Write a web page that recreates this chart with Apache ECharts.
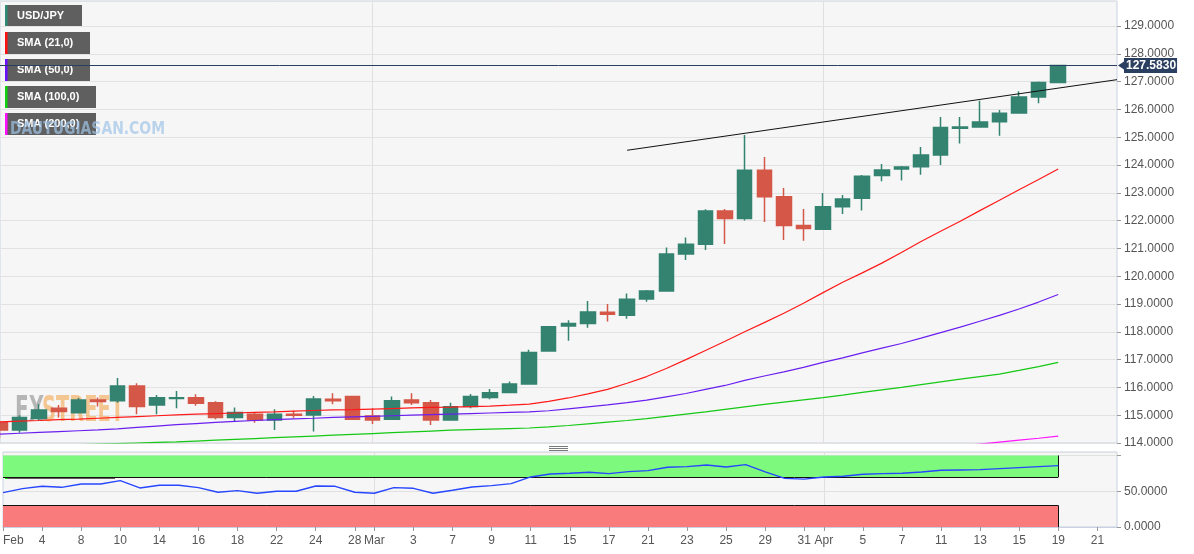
<!DOCTYPE html>
<html><head><meta charset="utf-8">
<script src="https://cdn.jsdelivr.net/npm/echarts@6/dist/echarts.min.js"></script>
<style>html,body{margin:0;padding:0;background:#fff;}#c{width:1194px;height:554px;}</style>
</head><body><div id="c"></div>
<script>
// ---- DATA ----
const dates = [
 '2022-02-02','2022-02-03','2022-02-04','2022-02-07','2022-02-08','2022-02-09','2022-02-10','2022-02-11',
 '2022-02-14','2022-02-15','2022-02-16','2022-02-17','2022-02-18','2022-02-21','2022-02-22','2022-02-23',
 '2022-02-24','2022-02-25','2022-02-28',
 '2022-03-01','2022-03-02','2022-03-03','2022-03-04','2022-03-07','2022-03-08','2022-03-09','2022-03-10',
 '2022-03-11','2022-03-14','2022-03-15','2022-03-16','2022-03-17','2022-03-18','2022-03-21','2022-03-22',
 '2022-03-23','2022-03-24','2022-03-25','2022-03-28','2022-03-29','2022-03-30','2022-03-31',
 '2022-04-01','2022-04-04','2022-04-05','2022-04-06','2022-04-07','2022-04-08','2022-04-11','2022-04-12',
 '2022-04-13','2022-04-14','2022-04-15','2022-04-18','2022-04-19','2022-04-20','2022-04-21','2022-04-22'
];
const tickLabels = [
 'Feb','','4','','8','','10','','14','','16','','18','','22','','24','','28',
 'Mar','','3','','7','','9','','11','','15','','17','','21','','23','','25','','29','','31',
 'Apr','','5','','7','','11','','13','','15','','19','','21',''
];
const opens  = [114.73,114.47,114.88,115.25,115.09,115.55,115.52,116.05,115.37,115.60,115.63,115.45,114.92,115.03,114.83,115.03,115.01,115.57,115.67,114.97,114.85,115.55,115.45,114.83,115.31,115.64,115.82,116.12,117.31,118.21,118.30,118.70,118.60,119.18,119.47,120.80,121.15,122.35,122.08,123.81,122.86,121.82,121.69,122.50,122.80,123.62,123.86,123.94,124.36,125.32,125.37,125.56,125.87,126.45,126.97];
const closes = [114.47,114.92,115.19,115.13,115.55,115.49,116.05,115.31,115.63,115.63,115.43,114.92,115.10,114.83,115.03,115.00,115.58,115.52,114.85,114.83,115.52,115.45,114.83,115.30,115.67,115.81,116.12,117.26,118.18,118.30,118.71,118.63,119.17,119.47,120.80,121.15,122.35,122.08,123.81,122.86,121.82,121.72,122.50,122.78,123.60,123.82,123.93,124.36,125.35,125.37,125.55,125.86,126.45,126.97,127.583];
const lows   = [114.18,114.37,114.80,114.92,115.06,115.31,115.45,115.03,115.03,115.25,115.34,114.85,114.77,114.73,114.47,114.91,114.41,115.39,114.83,114.68,114.85,115.37,114.65,114.83,115.25,115.57,115.80,116.10,117.29,117.68,118.15,118.37,118.47,119.08,119.45,120.58,120.94,121.16,122.00,121.95,121.30,121.28,121.69,122.24,122.36,123.42,123.44,123.65,124.00,124.77,125.35,125.05,125.87,126.22,126.97];
const highs  = [114.80,115.00,115.39,115.37,115.63,115.64,116.34,116.15,115.73,115.87,115.75,115.50,115.28,115.10,115.21,115.16,115.69,115.79,115.70,115.25,115.67,115.79,115.55,115.45,115.76,115.94,116.21,117.35,118.21,118.42,119.11,119.00,119.38,119.50,121.03,121.39,122.41,122.42,125.08,124.29,123.17,122.42,122.99,122.92,123.64,124.04,123.96,124.65,125.73,125.73,126.31,125.98,126.65,127.00,127.60];
const sma21  = [114.76,114.79,114.81,114.84,114.86,114.89,114.92,114.95,114.98,115.01,115.04,115.06,115.08,115.10,115.12,115.15,115.17,115.19,115.20,115.22,115.24,115.26,115.28,115.29,115.31,115.33,115.36,115.40,115.50,115.62,115.77,115.93,116.15,116.39,116.68,117.00,117.33,117.66,118.00,118.33,118.67,119.03,119.41,119.78,120.12,120.47,120.85,121.25,121.62,121.98,122.36,122.73,123.11,123.48,123.86];
const sma50  = [114.32,114.35,114.38,114.41,114.44,114.47,114.51,114.56,114.61,114.66,114.70,114.74,114.78,114.81,114.84,114.87,114.89,114.92,114.94,114.96,114.98,115.00,115.02,115.04,115.06,115.08,115.10,115.12,115.16,115.23,115.30,115.37,115.45,115.54,115.66,115.78,115.93,116.07,116.25,116.41,116.56,116.72,116.90,117.06,117.24,117.41,117.58,117.77,117.97,118.17,118.38,118.59,118.82,119.07,119.34];
const sma100 = [113.88,113.90,113.91,113.93,113.94,113.96,113.98,114.00,114.02,114.04,114.07,114.10,114.13,114.16,114.19,114.22,114.25,114.28,114.31,114.34,114.37,114.40,114.43,114.46,114.48,114.50,114.52,114.54,114.58,114.63,114.69,114.75,114.81,114.88,114.96,115.04,115.12,115.21,115.30,115.39,115.47,115.55,115.63,115.72,115.82,115.91,116.00,116.10,116.20,116.30,116.39,116.48,116.61,116.75,116.90];
const sma200 = [null,null,null,null,null,null,null,null,null,null,null,null,null,null,null,null,null,null,null,null,null,null,null,null,null,null,null,null,null,null,null,null,null,null,null,null,null,null,null,null,null,null,null,null,null,null,null,null,113.82,113.89,113.96,114.03,114.10,114.17,114.25];
const rsi    = [48.1,53.7,56.9,55.5,60.2,60.2,64.9,54.6,58.3,58.3,55.1,48.6,50.9,47.2,50.0,50.0,57.4,56.9,48.6,47.2,55.1,54.1,47.2,51.4,56.0,57.9,60.7,70.0,74.2,75.1,76.5,74.7,77.5,78.9,83.5,84.5,86.8,84.0,87.2,77.0,68.0,67.0,70.0,70.9,73.7,74.7,75.1,77.0,79.3,79.8,80.3,81.7,83.1,84.5,85.9];
const trendDates  = ['2022-03-18','2022-04-22'];
const trendValues = [124.53,127.07];
const rsiLevels = {overbought:70, oversold:30, top:100, bottom:0};

// ---- BUILD ----
const FONT = '"Liberation Sans", Arial, sans-serif';
const candles = opens.map((o,i)=>[o, closes[i], lows[i], highs[i]]);
const lastPrice = closes[closes.length-1];
const lastDataDate = dates[rsi.length-1];
const isMonthStart = (i)=> i>0 && dates[i].slice(5,7)!==dates[i-1].slice(5,7);
const NAVY = '#2b3f60';

const chart = echarts.init(document.getElementById('c'), null, {renderer:'canvas'});

const legendItems = [
  {t:'USD/JPY', c:'#2e8b74', w:77},
  {t:'SMA (21,0)', c:'#ff1010', w:85},
  {t:'SMA (50,0)', c:'#6a10ff', w:85},
  {t:'SMA (100,0)', c:'#10d010', w:91},
  {t:'SMA (200,0)', c:'#ff10ff', w:91}
];
const graphics = [];
// watermarks
graphics.push({type:'text', x:10, y:120, z:1, scaleX:0.86, silent:true,
  style:{text:'DAUTUGIASAN.COM', fill:'#9fc4e8', opacity:0.7, font:'bold 18px "DejaVu Sans Condensed", sans-serif'}});
graphics.push({type:'text', x:15, y:394, z:1, scaleX:0.62, silent:true,
  style:{text:'FX', fill:'#8c8c8c', opacity:0.6, font:'bold 36px "DejaVu Sans Condensed", sans-serif'}});
graphics.push({type:'text', x:42, y:394, z:1, scaleX:0.6, silent:true,
  style:{text:'STREET', fill:'#f4a750', opacity:0.6, font:'bold 36px "DejaVu Sans Condensed", sans-serif'}});
legendItems.forEach((it,i)=>{
  graphics.push({type:'group', x:5, y:5+i*27, z:100, silent:true, children:[
    {type:'rect', shape:{x:0,y:0,width:it.w,height:22}, style:{fill:'rgba(17,17,17,0.66)'}},
    {type:'rect', shape:{x:0,y:0,width:2.5,height:22}, style:{fill:it.c}},
    {type:'text', x:12, y:11, style:{text:it.t, fill:'#fff', font:'bold 11px '+FONT, verticalAlign:'middle'}}
  ]});
});
graphics.push({type:'group', x:5, y:458, z:100, silent:true, children:[
  {type:'rect', shape:{x:0,y:0,width:110,height:21}, style:{fill:'rgba(17,17,17,0.66)'}},
  {type:'rect', shape:{x:0,y:0,width:2.5,height:21}, style:{fill:'#00e000'}},
  {type:'text', x:12, y:10.5, style:{text:'RSI (14,70,30,1)', fill:'#fff', font:'bold 11px '+FONT, verticalAlign:'middle'}}
]});
// panel splitter handle
[446.5,448.5,450.5].forEach(y=>graphics.push({type:'line', silent:true, z:100,
  shape:{x1:549,y1:y,x2:568,y2:y}, style:{stroke:'#7a7a7a', lineWidth:1}}));

const option = {
  animation:false,
  backgroundColor:'#ffffff',
  textStyle:{fontFamily:FONT},
  grid:[
    {left:0, top:1, width:1117, height:442, show:true, backgroundColor:'#f6f6f6', borderColor:'#c9d1e3', borderWidth:1},
    {left:0, top:452, width:1117, height:75, show:true, backgroundColor:'#f6f6f6', borderColor:'#c9d1e3', borderWidth:1}
  ],
  xAxis:[
    {type:'category', gridIndex:0, data:dates, boundaryGap:false,
     axisLine:{show:false}, axisTick:{show:false}, axisLabel:{show:false},
     splitLine:{show:true, interval:(i)=>isMonthStart(i), lineStyle:{color:'#e0e0e0'}}},
    {type:'category', gridIndex:1, data:dates, boundaryGap:false,
     axisLine:{show:true, lineStyle:{color:'#c9d1e3'}},
     axisTick:{show:true, interval:(i)=>tickLabels[i]!=='', length:4, lineStyle:{color:'#999'}},
     axisLabel:{show:true, interval:(i)=>tickLabels[i]!=='', formatter:(v,i)=>tickLabels[i],
       color:'#555', fontSize:12, fontFamily:FONT, margin:8, alignMinLabel:'left'},
     splitLine:{show:true, interval:(i)=>isMonthStart(i), lineStyle:{color:'#e0e0e0'}}}
  ],
  yAxis:[
    {type:'value', gridIndex:0, position:'right', min:114, max:129.9, interval:1, scale:true,
     axisLine:{show:false}, axisTick:{show:true, length:4, lineStyle:{color:'#999'}},
     axisLabel:{color:'#555', fontSize:12, fontFamily:FONT, margin:7, showMaxLabel:false,
       formatter:(v)=>v.toFixed(4)},
     splitLine:{show:true, lineStyle:{color:'#e2e2e2'}}},
    {type:'value', gridIndex:1, position:'right', min:0, max:104.9, interval:50,
     axisLine:{show:false}, axisTick:{show:true, length:4, lineStyle:{color:'#999'}},
     axisLabel:{color:'#555', fontSize:12, fontFamily:FONT, margin:7, showMaxLabel:false,
       formatter:(v)=> v===100 ? '' : v.toFixed(4)},
     splitLine:{show:true, lineStyle:{color:'#e0e0e0'}}}
  ],
  series:[
    {type:'candlestick', xAxisIndex:0, yAxisIndex:0, data:candles, barWidth:15, z:3,
     itemStyle:{color:'#338370', color0:'#d45748', borderColor:'#338370', borderColor0:'#d45748', borderWidth:1.5},
     markLine:{silent:true, symbol:'none', animation:false,
       lineStyle:{color:NAVY, width:1, type:'solid'},
       label:{show:true, position:'end', formatter:lastPrice.toFixed(4), color:'#fff', fontWeight:'bold',
         fontSize:12, fontFamily:FONT, backgroundColor:NAVY, padding:[2,1,1,2], distance:7},
       data:[{yAxis:lastPrice}]},
     markPoint:{silent:true, animation:false, symbol:'triangle', symbolSize:[8,6], symbolRotate:90,
       itemStyle:{color:NAVY}, label:{show:false},
       data:[{coord:[dates[dates.length-1], lastPrice], symbolOffset:[4,0]}]}
    },
    {type:'line', name:'SMA (21,0)', xAxisIndex:0, yAxisIndex:0, data:sma21, showSymbol:false, z:4,
     lineStyle:{color:'#ff1a1a', width:1.2}},
    {type:'line', name:'SMA (50,0)', xAxisIndex:0, yAxisIndex:0, data:sma50, showSymbol:false, z:4,
     lineStyle:{color:'#6a1ff0', width:1.2}},
    {type:'line', name:'SMA (100,0)', xAxisIndex:0, yAxisIndex:0, data:sma100, showSymbol:false, z:4,
     lineStyle:{color:'#14c814', width:1.2}},
    {type:'line', name:'SMA (200,0)', xAxisIndex:0, yAxisIndex:0, data:sma200, showSymbol:false, z:4,
     lineStyle:{color:'#ff14ff', width:1.2}},
    {type:'line', name:'trend', xAxisIndex:0, yAxisIndex:0, showSymbol:false, z:4,
     data:trendDates.map((d,i)=>[d, trendValues[i]]), lineStyle:{color:'#111', width:1}},
    {type:'line', name:'RSI', xAxisIndex:1, yAxisIndex:1, data:rsi, showSymbol:false, z:5,
     lineStyle:{color:'#2646ff', width:1.4},
     markArea:{silent:true, animation:false, data:[
       [{coord:[dates[0], rsiLevels.overbought], itemStyle:{color:'#7dfa7d', opacity:1}}, {coord:[lastDataDate, rsiLevels.top]}],
       [{coord:[dates[0], rsiLevels.bottom], itemStyle:{color:'#fa7b7b', opacity:1}}, {coord:[lastDataDate, rsiLevels.oversold]}]
     ]},
     markLine:{silent:true, animation:false, symbol:'none', label:{show:false},
       lineStyle:{color:'#111', width:1, type:'solid'},
       data:[
         [{coord:[dates[0], rsiLevels.overbought]}, {coord:[lastDataDate, rsiLevels.overbought]}],
         [{coord:[dates[0], rsiLevels.oversold]}, {coord:[lastDataDate, rsiLevels.oversold]}],
         [{coord:[lastDataDate, rsiLevels.overbought]}, {coord:[lastDataDate, rsiLevels.top]}],
         [{coord:[lastDataDate, rsiLevels.bottom]}, {coord:[lastDataDate, rsiLevels.oversold]}]
       ]}
    }
  ],
  graphic:graphics
};
chart.setOption(option);
</script>
</body></html>
